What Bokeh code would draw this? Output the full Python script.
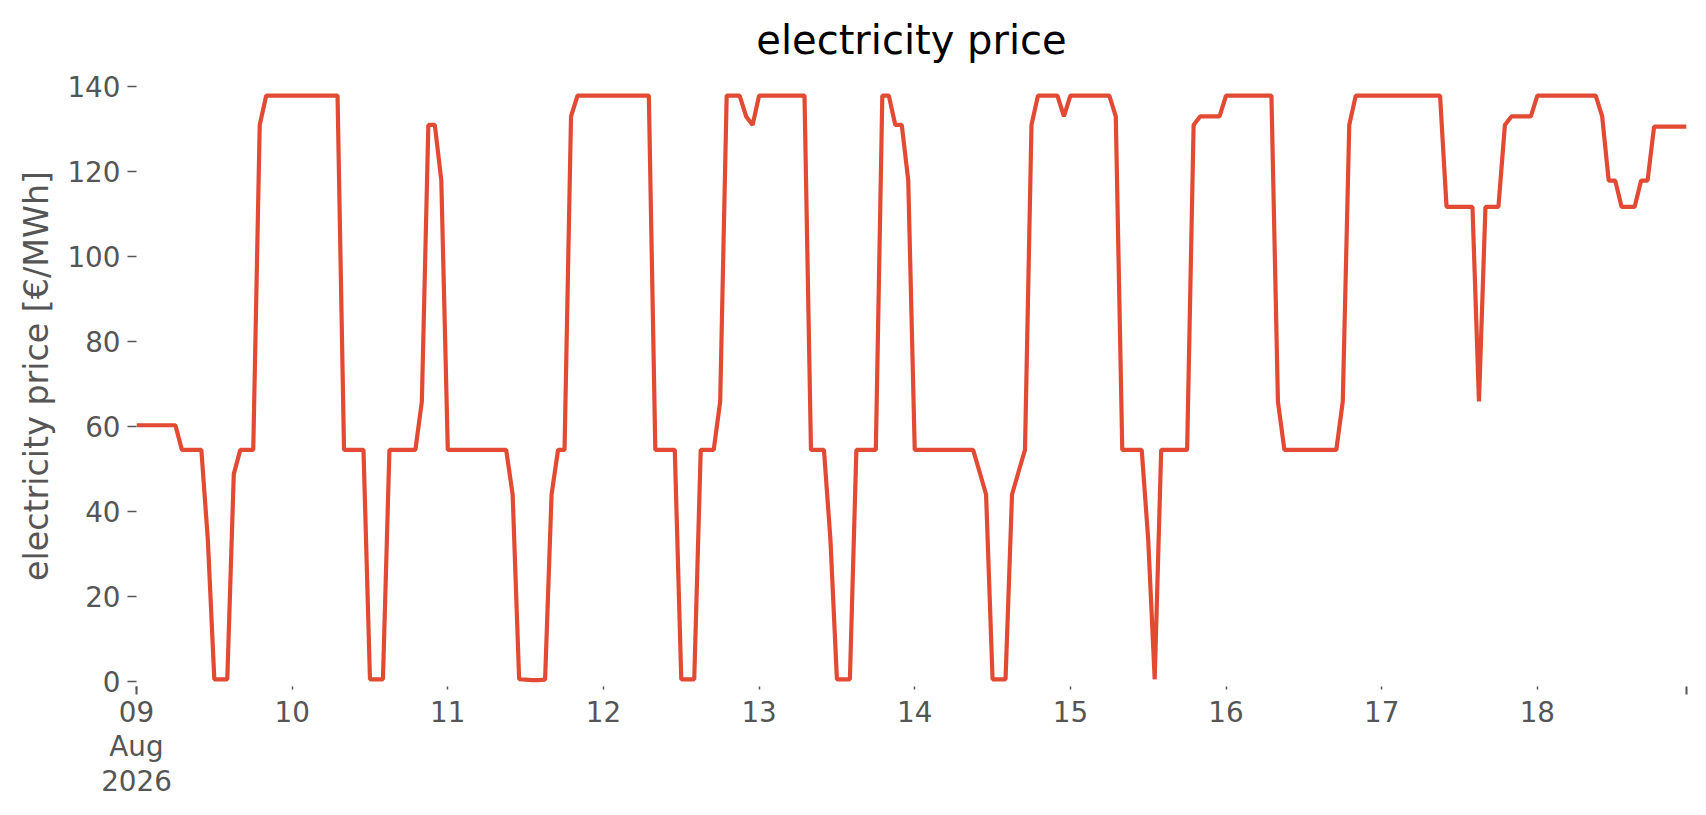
import pandas as pd
from bokeh.plotting import figure
from bokeh.models import ColumnDataSource, FixedTicker, Range1d
from bokeh.embed import file_html
from bokeh.resources import INLINE

# hourly electricity price [€/MWh], 09 Aug 2026 00:00 .. 18 Aug 2026 23:00
day_09 = [60.3, 60.3, 60.3, 60.3, 60.3, 60.3, 60.3, 54.5, 54.5, 54.5, 54.5, 33.4,
          0.5, 0.5, 0.5, 48.8, 54.5, 54.5, 54.5, 131.0, 137.9, 137.9, 137.9, 137.9]
day_10 = [137.9, 137.9, 137.9, 137.9, 137.9, 137.9, 137.9, 137.9, 54.5, 54.5, 54.5, 54.5,
          0.5, 0.5, 0.5, 54.5, 54.5, 54.5, 54.5, 54.5, 65.9, 131.0, 131.0, 117.9]
day_11 = [54.5, 54.5, 54.5, 54.5, 54.5, 54.5, 54.5, 54.5, 54.5, 54.5, 44.0, 0.5,
          0.4, 0.3, 0.3, 0.4, 44.0, 54.5, 54.5, 133.0, 137.9, 137.9, 137.9, 137.9]
day_12 = [137.9, 137.9, 137.9, 137.9, 137.9, 137.9, 137.9, 137.9, 54.5, 54.5, 54.5, 54.5,
          0.5, 0.5, 0.5, 54.5, 54.5, 54.5, 65.9, 137.9, 137.9, 137.9, 133.0, 131.0]
day_13 = [137.9, 137.9, 137.9, 137.9, 137.9, 137.9, 137.9, 137.9, 54.5, 54.5, 54.5, 33.4,
          0.5, 0.5, 0.5, 54.5, 54.5, 54.5, 54.5, 137.9, 137.9, 131.0, 131.0, 117.9]
day_14 = [54.5, 54.5, 54.5, 54.5, 54.5, 54.5, 54.5, 54.5, 54.5, 54.5, 49.3, 44.0,
          0.5, 0.5, 0.5, 44.0, 49.3, 54.5, 131.0, 137.9, 137.9, 137.9, 137.9, 133.0]
day_15 = [137.9, 137.9, 137.9, 137.9, 137.9, 137.9, 137.9, 133.0, 54.5, 54.5, 54.5, 54.5,
          33.4, 0.5, 54.5, 54.5, 54.5, 54.5, 54.5, 131.0, 133.0, 133.0, 133.0, 133.0]
day_16 = [137.9, 137.9, 137.9, 137.9, 137.9, 137.9, 137.9, 137.9, 65.9, 54.5, 54.5, 54.5,
          54.5, 54.5, 54.5, 54.5, 54.5, 54.5, 65.9, 131.0, 137.9, 137.9, 137.9, 137.9]
day_17 = [137.9, 137.9, 137.9, 137.9, 137.9, 137.9, 137.9, 137.9, 137.9, 137.9, 111.7, 111.7,
          111.7, 111.7, 111.7, 65.9, 111.7, 111.7, 111.7, 131.0, 133.0, 133.0, 133.0, 133.0]
day_18 = [137.9, 137.9, 137.9, 137.9, 137.9, 137.9, 137.9, 137.9, 137.9, 137.9, 133.0, 117.9,
          117.9, 111.7, 111.7, 111.7, 117.9, 117.9, 130.6, 130.6, 130.6, 130.6, 130.6, 130.6]

start_time = "2026-08-09 00:00"
day_dates = ["2026-08-09", "2026-08-10", "2026-08-11", "2026-08-12", "2026-08-13",
             "2026-08-14", "2026-08-15", "2026-08-16", "2026-08-17", "2026-08-18"]
day_labels = ["09\nAug\n2026", "10", "11", "12", "13", "14", "15", "16", "17", "18"]
y_ticks = [0, 20, 40, 60, 80, 100, 120, 140]

price = day_09 + day_10 + day_11 + day_12 + day_13 + day_14 + day_15 + day_16 + day_17 + day_18
times = pd.date_range(start_time, periods=len(price), freq="h")

def to_ms(ts):
    return pd.Timestamp(ts).value / 1e6

source = ColumnDataSource(data=dict(time=times, price=price))

p = figure(width=1690, height=810, x_axis_type="datetime",
           output_backend="svg", toolbar_location=None,
           x_range=Range1d(to_ms(times[0]), to_ms(times[-1])),
           y_range=Range1d(-1.2, 145),
           min_border_left=136, min_border_right=4,
           min_border_top=65, min_border_bottom=124)

p.line("time", "price", source=source, line_color="#E24A33", line_width=4.2)

# title
p.title.text = "electricity price"
p.title.align = "center"
p.title.text_font = "DejaVu Sans"
p.title.text_font_size = "40px"
p.title.text_font_style = "normal"
p.title.text_color = "#000000"
p.title.standoff = 5

p.background_fill_color = "white"
p.border_fill_color = "white"
p.outline_line_color = None
p.xgrid.visible = False
p.ygrid.visible = False

# x axis
day_ms = [to_ms(d) for d in day_dates]
xax = p.xaxis[0]
xax.ticker = FixedTicker(ticks=day_ms, minor_ticks=[to_ms(times[0]), to_ms(times[-1])])
xax.major_label_overrides = {ms: lab for ms, lab in zip(day_ms, day_labels)}
xax.axis_line_color = None
xax.major_tick_in = 0
xax.major_tick_out = 3
xax.minor_tick_in = 0
xax.minor_tick_out = 8
xax.major_tick_line_color = "#555555"
xax.minor_tick_line_color = "#555555"
xax.major_tick_line_width = 1.5
xax.minor_tick_line_width = 2
xax.major_label_standoff = 1
xax.major_label_text_font = "DejaVu Sans"
xax.major_label_text_font_size = "27.8px"
xax.major_label_text_line_height = 1.05
xax.major_label_text_color = "#555555"

# y axis
yax = p.yaxis[0]
yax.ticker = FixedTicker(ticks=y_ticks)
yax.axis_label = "electricity price [€/MWh]"
yax.axis_label_text_font = "DejaVu Sans"
yax.axis_label_text_font_size = "33.3px"
yax.axis_label_text_font_style = "normal"
yax.axis_label_text_color = "#555555"
yax.axis_label_standoff = 8
yax.axis_line_color = None
yax.major_tick_in = 0
yax.major_tick_out = 9
yax.minor_tick_line_color = None
yax.major_tick_line_color = "#555555"
yax.major_tick_line_width = 1.5
yax.major_label_standoff = 7
yax.major_label_text_font = "DejaVu Sans"
yax.major_label_text_font_size = "27.8px"
yax.major_label_text_color = "#555555"

open("out.html", "w").write(file_html(p, INLINE))
